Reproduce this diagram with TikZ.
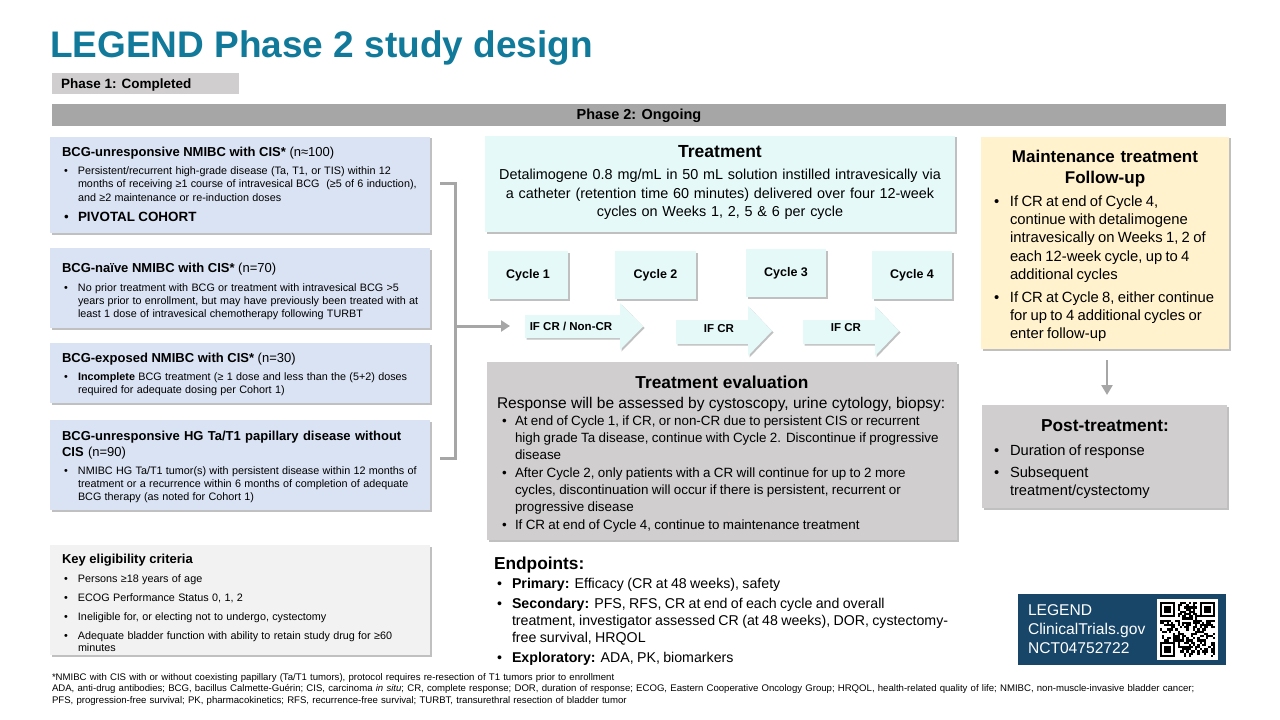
\documentclass[tikz,border=0pt]{standalone}
\usepackage{fontspec}
\setmainfont{Liberation Sans}
\usetikzlibrary{shadows,arrows.meta}
\definecolor{ttl}{RGB}{17,122,155}
\definecolor{lblue}{RGB}{218,227,243}
\definecolor{lgray}{RGB}{242,242,242}
\definecolor{cyanl}{RGB}{230,249,249}
\definecolor{mgray}{RGB}{208,206,206}
\definecolor{dgray}{RGB}{166,166,166}
\definecolor{cream}{RGB}{255,242,204}
\definecolor{navy}{RGB}{23,70,105}
\newcommand\fz[2]{\fontsize{#1bp}{#2bp}\selectfont}
\newcommand\bl[2][14bp]{\hangindent=#1\hangafter=1\noindent\makebox[#1][l]{\textbullet}#2\par}
\tikzset{
  bx/.style={anchor=north west, inner sep=0pt, outer sep=0pt, draw=none},
  shad/.style={drop shadow={shadow xshift=1.5bp, shadow yshift=-1.5bp, opacity=0.35, fill=black!70}},
  txt/.style={anchor=base west, align=left, inner sep=0pt, outer sep=0pt},
  ctxt/.style={anchor=base, align=center, inner sep=0pt, outer sep=0pt},
  conn/.style={draw=dgray, line width=3bp},
  blockarrow/.style={fill=cyanl, shad},
}
\begin{document}
\begin{tikzpicture}[x=1bp,y=-1bp]
\useasboundingbox (0,0) rectangle (1280,720);
\fill[white] (0,0) rectangle (1280,720);

% title and phase bars
\node[txt, font=\fz{37}{40}\bfseries, text=ttl] (title) at (50,58) {LEGEND Phase 2 study design};
\node[bx, fill=mgray, minimum width=187bp, minimum height=21bp] (p1) at (52,73) {};
\node[txt, font=\fz{13.5}{15}\bfseries] (p1t) at (61,88.5) {Phase 1: Completed};
\node[bx, fill=dgray, minimum width=1174bp, minimum height=22bp] (p2) at (52,104) {};
\node[ctxt, font=\fz{14.5}{16}\bfseries] (p2t) at (639,120) {Phase 2: Ongoing};

% left cohort boxes
\node[bx, fill=lblue, shad, minimum width=380bp, minimum height=96bp] (b1) at (50,137) {};
\node[txt, font=\fz{13}{15}] (b1t) at (62,157) {\textbf{BCG-unresponsive NMIBC with CIS*} (n≈100)};
\node[txt, text width=365bp] (b1b) at (64,174.5) {\fz{10.8}{13.3}\bl{Persistent/recurrent high-grade disease (Ta, T1, or TIS) within 12\newline months of receiving ≥1 course of intravesical BCG\ \ (≥5 of 6 induction),\newline and ≥2 maintenance or re-induction doses}};
\node[txt, text width=365bp] (b1p) at (64,221.5) {\fz{13.4}{15}\bl{\textbf{PIVOTAL COHORT}}};

\node[bx, fill=lblue, shad, minimum width=380bp, minimum height=80bp] (b2) at (50,248) {};
\node[txt, font=\fz{13}{15}] (b2t) at (62,272) {\textbf{BCG-naïve NMIBC with CIS*} (n=70)};
\node[txt, text width=365bp] (b2b) at (64,291.5) {\fz{10.8}{13}\bl{No prior treatment with BCG or treatment with intravesical BCG >5\newline years prior to enrollment, but may have previously been treated with at\newline least 1 dose of intravesical chemotherapy following TURBT}};

\node[bx, fill=lblue, shad, minimum width=380bp, minimum height=60bp] (b3) at (50,343) {};
\node[txt, font=\fz{13}{15}] (b3t) at (62,362) {\textbf{BCG-exposed NMIBC with CIS*} (n=30)};
\node[txt, text width=365bp] (b3b) at (64,380.5) {\fz{10.8}{13}\bl{\textbf{Incomplete} BCG treatment (≥ 1 dose and less than the (5+2) doses\newline required for adequate dosing per Cohort 1)}};

\node[bx, fill=lblue, shad, minimum width=380bp, minimum height=90bp] (b4) at (50,420) {};
\node[txt, text width=370bp, font=\fz{13}{16.5}] (b4t) at (62,440) {\textbf{BCG-unresponsive HG Ta/T1 papillary disease without}\newline\textbf{CIS} (n=90)};
\node[txt, text width=365bp] (b4b) at (64,474.5) {\fz{10.8}{13}\bl{NMIBC HG Ta/T1 tumor(s) with persistent disease within 12 months of\newline treatment or a recurrence within 6 months of completion of adequate\newline BCG therapy (as noted for Cohort 1)}};

% eligibility
\node[bx, fill=lgray, shad, minimum width=380bp, minimum height=110bp] (ke) at (50,545) {};
\node[txt, font=\fz{13}{15}\bfseries] (ket) at (62,563) {Key eligibility criteria};
\node[txt, text width=365bp] (keb) at (64,582.5) {\fz{10.8}{12}\setlength\parskip{7bp}%
\bl{Persons ≥18 years of age}
\bl{ECOG Performance Status 0, 1, 2}
\bl{Ineligible for, or electing not to undergo, cystectomy}
\bl{Adequate bladder function with ability to retain study drug for ≥60\newline minutes}};

% bracket connector
\coordinate (bt) at (440,184);
\coordinate (bb) at (440,458);
\coordinate (bm) at (455,326);
\coordinate (bend) at (510,326);
\draw[conn] (bt) -| (bm) |- (bb);
\draw[conn, -{Triangle[length=9bp,width=11bp]}] (bm) -- (bend);

% treatment
\node[bx, fill=cyanl, shad, minimum width=470bp, minimum height=96bp] (tr) at (485,136) {};
\node[ctxt, font=\fz{17.5}{19}\bfseries] (trt) at (720,158) {Treatment};
\node[ctxt, text width=470bp, font=\fz{14.4}{18.5}] (trb) at (720,180) {Detalimogene 0.8 mg/mL in 50 mL solution instilled intravesically via\\ a catheter (retention time 60 minutes) delivered over four 12-week\\ cycles on Weeks 1, 2, 5 \& 6 per cycle};

% cycles
\node[bx, fill=cyanl, shad, minimum width=80bp, minimum height=48bp] (c1) at (488,251) {};
\node[bx, fill=cyanl, shad, minimum width=81bp, minimum height=48bp] (c2) at (615,251) {};
\node[bx, fill=cyanl, shad, minimum width=80bp, minimum height=48bp] (c3) at (746,249) {};
\node[bx, fill=cyanl, shad, minimum width=80bp, minimum height=48bp] (c4) at (872,251) {};
\node[font=\fz{12.5}{14}\bfseries] (c1t) at (c1) {Cycle 1};
\node[font=\fz{12.5}{14}\bfseries] (c2t) at (c2) {Cycle 2};
\node[font=\fz{12.5}{14}\bfseries] (c3t) at (c3) {Cycle 3};
\node[font=\fz{12.5}{14}\bfseries] (c4t) at (c4) {Cycle 4};

% block arrows
\fill[blockarrow] (525,315) -- (620,315) -- (620,303) -- (643,326.5) -- (620,350) -- (620,338) -- (525,338) -- cycle;
\node[font=\fz{11.5}{13}\bfseries] (a1) at (571,326) {IF CR / Non-CR};
\fill[blockarrow] (676,320) -- (748,320) -- (748,306) -- (772,331) -- (748,356) -- (748,344) -- (676,344) -- cycle;
\node[font=\fz{11.5}{13}\bfseries] (a2) at (719,329) {IF CR};
\fill[blockarrow] (803,320) -- (875,320) -- (875,306) -- (899,331) -- (875,356) -- (875,344) -- (803,344) -- cycle;
\node[font=\fz{11.5}{13}\bfseries] (a3) at (846,328) {IF CR};

% evaluation
\node[bx, fill=mgray, shad, minimum width=470bp, minimum height=178bp] (ev) at (487,362) {};
\node[ctxt, font=\fz{17.3}{19}\bfseries] (evt) at (722,388) {Treatment evaluation};
\node[txt, font=\fz{15.5}{17}] (evr) at (497,408.5) {Response will be assessed by cystoscopy, urine cytology, biopsy:};
\node[txt, text width=465bp] (evb) at (502,425.5) {\fz{13.4}{17}\setlength\parskip{1bp}%
\bl[13bp]{At end of Cycle 1, if CR, or non-CR due to persistent CIS or recurrent\newline high grade Ta disease, continue with Cycle 2. Discontinue if progressive\newline disease}
\bl[13bp]{After Cycle 2, only patients with a CR will continue for up to 2 more\newline cycles, discontinuation will occur if there is persistent, recurrent or\newline progressive disease}
\bl[13bp]{If CR at end of Cycle 4, continue to maintenance treatment}};

% endpoints
\node[txt, font=\fz{17.3}{19}\bfseries] (ept) at (494,569) {Endpoints:};
\node[txt, text width=500bp] (epb) at (497,588.7) {\fz{14.2}{17}\setlength\parskip{2.7bp}%
\bl[15bp]{\textbf{Primary:} Efficacy (CR at 48 weeks), safety}
\bl[15bp]{\textbf{Secondary:} PFS, RFS, CR at end of each cycle and overall\newline treatment, investigator assessed CR (at 48 weeks), DOR, cystectomy-\newline free survival, HRQOL}
\bl[15bp]{\textbf{Exploratory:} ADA, PK, biomarkers}};

% QR box
\node[bx, fill=navy, minimum width=208bp, minimum height=71bp] (qr) at (1018,594) {};
\node[txt, text width=130bp, font=\fz{15.6}{19}, text=white] (qrt) at (1028,615.5) {LEGEND\newline ClinicalTrials.gov\newline NCT04752722};
\node[bx, fill=white, minimum width=61bp, minimum height=61bp] (qrc) at (1157,599) {};
\begin{scope}[shift={(1160,602)}]
  \pgfmathsetseed{4752722}
  \foreach \i in {0,...,24}{
    \foreach \j in {0,...,24}{
      \pgfmathrandominteger{\r}{0}{1}
      \ifnum\r=1 \fill[black] (\i*2.2,\j*2.2) rectangle ++(2.2,2.2);\fi
    }
  }
  \foreach \px/\py in {0/0,39.6/0,0/39.6}{
    \begin{scope}[shift={(\px,\py)}]
      \fill[white] (0,0) rectangle (17.6,17.6);
      \fill[black] (0,0) rectangle (15.4,15.4);
      \fill[white] (2.2,2.2) rectangle (13.2,13.2);
      \fill[black] (4.4,4.4) rectangle (11,11);
    \end{scope}
  }
\end{scope}

% maintenance
\node[bx, fill=cream, shad, minimum width=248bp, minimum height=212bp] (mt) at (981,137) {};
\node[ctxt, text width=240bp, font=\fz{17}{20.5}\bfseries] (mtt) at (1105,162.6) {Maintenance treatment\\ Follow-up};
\node[txt, text width=245bp] (mtb) at (994,207) {\fz{14.8}{18}\setlength\parskip{5bp}%
\bl[16bp]{If CR at end of Cycle 4,\newline continue with detalimogene\newline intravesically on Weeks 1, 2 of\newline each 12-week cycle, up to 4\newline additional cycles}
\bl[16bp]{If CR at Cycle 8, either continue\newline for up to 4 additional cycles or\newline enter follow-up}};

% post treatment
\node[bx, fill=mgray, shad, minimum width=245bp, minimum height=103bp] (pt) at (982,405) {};
\node[ctxt, font=\fz{17.3}{19}\bfseries] (ptt) at (1105,431) {Post-treatment:};
\node[txt, text width=235bp] (ptb) at (994,455) {\fz{14.7}{18}\setlength\parskip{4bp}%
\bl[16bp]{Duration of response}
\bl[16bp]{Subsequent\newline treatment/cystectomy}};

\coordinate (ds) at (1107,349);
\coordinate (de) at (1107,405);
\draw[draw=dgray, line width=2.5bp, shorten <=11bp, shorten >=10bp, -{Triangle[length=10bp,width=11bp]}] (ds) -- (de);

% footer
\node[txt, text width=1220bp, font=\fz{9.6}{11.7}] (ft) at (52,680) {*NMIBC with CIS with or without coexisting papillary (Ta/T1 tumors), protocol requires re-resection of T1 tumors prior to enrollment\newline
ADA, anti-drug antibodies; BCG, bacillus Calmette-Guérin; CIS, carcinoma \textit{in situ}; CR, complete response; DOR, duration of response; ECOG, Eastern Cooperative Oncology Group; HRQOL, health-related quality of life; NMIBC, non-muscle-invasive bladder cancer;\newline
PFS, progression-free survival; PK, pharmacokinetics; RFS, recurrence-free survival; TURBT, transurethral resection of bladder tumor};
\end{tikzpicture}
\end{document}
